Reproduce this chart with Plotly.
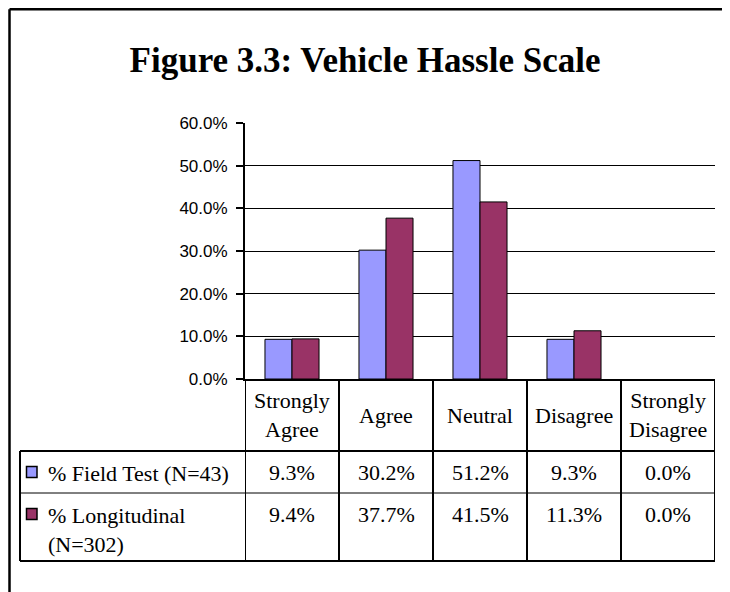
import plotly.graph_objects as go

# ---------------- data ----------------
categories = ["Strongly<br>Agree", "Agree", "Neutral", "Disagree", "Strongly<br>Disagree"]
series_names = ["% Field Test (N=43)", "% Longitudinal<br>(N=302)"]
field_test = [0.093, 0.302, 0.512, 0.093, 0.0]
longitudinal = [0.094, 0.377, 0.415, 0.113, 0.0]
series_values = [field_test, longitudinal]
colors = ["#9999FF", "#993366"]
title_text = "Figure 3.3: Vehicle Hassle Scale"
y_ticks = [0.0, 0.1, 0.2, 0.3, 0.4, 0.5, 0.6]

# ---------------- layout geometry (screen pixels; page body has 8px margin) ----------------
OFF = 8
W, H = 730 - OFF, 592 - OFF
X_LEFT, X_RIGHT, Y_TOP, Y_ZERO = 245, 715, 123, 379   # plot area in screen px
L = X_LEFT - OFF
R = W - (X_RIGHT - OFF)
T = Y_TOP - OFF
B = H - (Y_ZERO - OFF)
PW, PH = W - L - R, H - T - B

def px(x):
    return (x - OFF - L) / PW

def py(y):
    return (H - B - (y - OFF)) / PH

SERIF = "Liberation Serif, Times New Roman, serif"
SANS = "Liberation Sans, Arial, sans-serif"
TXT = 22

idx = list(range(len(categories)))

fig = go.Figure()
for name, vals, col in zip(series_names, series_values, colors):
    fig.add_trace(go.Bar(
        x=idx, y=vals, name=name,
        marker=dict(color=col,
                    line=dict(color="black", width=[1 if v > 0 else 0 for v in vals])),
        showlegend=False,
    ))

shapes = []
def line(x0, y0, x1, y1, w=2, xref="paper"):
    shapes.append(dict(type="line", xref=xref, yref="paper",
                       x0=x0, y0=y0, x1=x1, y1=y1,
                       line=dict(color="black", width=w)))

# outer frame (cut at right/bottom)
line(px(9.5), py(9.2), px(740), py(9.2), 2.5)
line(px(9.5), py(9.2), px(9.5), py(600), 2.5)

# data table lines
y_head_bot, y_row1_bot, y_row2_bot = 451, 493, 561
line(px(20), py(y_head_bot), px(X_RIGHT), py(y_head_bot), 2)
line(px(20), py(y_row1_bot), px(X_RIGHT), py(y_row1_bot), 1)
line(px(20), py(y_row2_bot), px(X_RIGHT), py(y_row2_bot), 2)
line(px(20), py(y_head_bot), px(20), py(y_row2_bot), 2)
for k in range(len(categories) + 1):
    line(k - 0.5, py(Y_ZERO), k - 0.5, py(y_row2_bot), 2, xref="x")

annotations = []
# category headers
for i, c in enumerate(categories):
    annotations.append(dict(x=i, xref="x", y=py(415), yref="paper",
                            text=c, showarrow=False, xanchor="center", yanchor="middle",
                            font=dict(family=SERIF, size=TXT, color="black")))
# value cells
row_y = [472, 514]
for r, vals in enumerate(series_values):
    for i, v in enumerate(vals):
        annotations.append(dict(x=i, xref="x", y=py(row_y[r]), yref="paper",
                                text=f"{v*100:.1f}%", showarrow=False,
                                xanchor="center", yanchor="middle",
                                font=dict(family=SERIF, size=TXT, color="black")))
# legend keys + labels
for r, (name, col) in enumerate(zip(series_names, colors)):
    yc = row_y[r]
    shapes.append(dict(type="rect", xref="paper", yref="paper",
                       x0=px(26.5), x1=px(37), y0=py(yc - 5.5), y1=py(yc + 5.5),
                       fillcolor=col, line=dict(color="black", width=1.5)))
    annotations.append(dict(x=px(46), xref="paper", y=py(yc - 13), yref="paper",
                            text=name, showarrow=False, xanchor="left", yanchor="top",
                            align="left",
                            font=dict(family=SERIF, size=TXT, color="black")))

fig.update_layout(
    width=W, height=H,
    margin=dict(l=L, r=R, t=T, b=B, pad=0),
    paper_bgcolor="white", plot_bgcolor="white",
    barmode="group", bargap=0.425, bargroupgap=0,
    title=dict(text=f"<b>{title_text}</b>", x=(365 - OFF) / W, xref="container",
               xanchor="center",
               y=1 - (60 - OFF) / H, yref="container", yanchor="middle",
               font=dict(family=SERIF, size=35, color="black")),
    xaxis=dict(range=[-0.5, len(categories) - 0.5], showticklabels=False, ticks="",
               showgrid=False, zeroline=False, showline=True, linecolor="black",
               linewidth=2, fixedrange=True),
    yaxis=dict(range=[0, 0.6], tickvals=y_ticks, tickformat=".1%",
               showgrid=True, gridcolor="black", gridwidth=1, zeroline=False,
               showline=True, linecolor="black", linewidth=2,
               ticks="outside", ticklen=7, tickwidth=1.5, tickcolor="black",
               ticklabelstandoff=5,
               tickfont=dict(family=SANS, size=17, color="black")),
    shapes=shapes, annotations=annotations,
)

fig.write_html("out.html")
